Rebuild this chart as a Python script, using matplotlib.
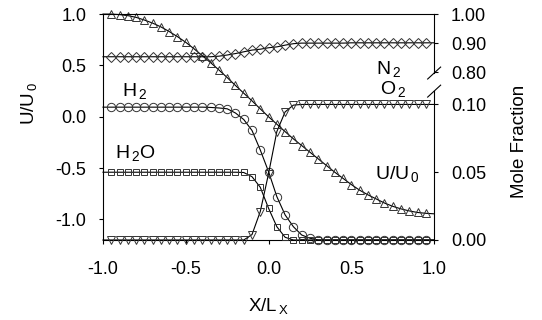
import numpy as np
import matplotlib
matplotlib.use("Agg")
from matplotlib import pyplot as plt

# positions along the channel, X/Lx (line ends at +-1, markers in between)
x_pos = [-1.0, -0.95, -0.9, -0.85, -0.8, -0.75, -0.7, -0.65, -0.6, -0.55,
         -0.5, -0.45, -0.4, -0.35, -0.3, -0.25, -0.2, -0.15, -0.1, -0.05,
         0.0, 0.05, 0.1, 0.15, 0.2, 0.25, 0.3, 0.35, 0.4, 0.45,
         0.5, 0.55, 0.6, 0.65, 0.7, 0.75, 0.8, 0.85, 0.9, 0.95, 1.0]

# velocity U/U0 (left axis)
u_ratio = [1.0, 1.0, 0.995, 0.985, 0.968, 0.942, 0.912, 0.875, 0.83, 0.78,
           0.725, 0.662, 0.595, 0.527, 0.456, 0.382, 0.305, 0.23, 0.155, 0.077,
           0.0, -0.072, -0.145, -0.215, -0.28, -0.345, -0.41, -0.475, -0.54, -0.6,
           -0.66, -0.715, -0.76, -0.8, -0.84, -0.872, -0.897, -0.917, -0.932, -0.94,
           -0.945]

# mole fractions (right axis)
n2 = [0.853, 0.853, 0.853, 0.853, 0.853, 0.853, 0.853, 0.853, 0.853, 0.853,
      0.853, 0.853, 0.853, 0.853, 0.855, 0.859, 0.864, 0.870, 0.876, 0.879,
      0.884, 0.887, 0.893, 0.898, 0.900, 0.900, 0.900, 0.900, 0.900, 0.900,
      0.901, 0.901, 0.901, 0.901, 0.901, 0.901, 0.901, 0.901, 0.901, 0.901,
      0.901]
h2 = [0.098, 0.098, 0.098, 0.098, 0.098, 0.098, 0.098, 0.098, 0.098, 0.098,
      0.098, 0.098, 0.098, 0.0978, 0.0974, 0.0968, 0.0937, 0.0889, 0.0808, 0.0664,
      0.0504, 0.032, 0.0185, 0.0098, 0.0037, 0.0013, 0.0, 0.0, 0.0, 0.0,
      0.0, 0.0, 0.0, 0.0, 0.0, 0.0, 0.0, 0.0, 0.0, 0.0,
      0.0]
h2o = [0.05, 0.05, 0.05, 0.05, 0.05, 0.05, 0.05, 0.05, 0.05, 0.05,
       0.05, 0.05, 0.05, 0.05, 0.05, 0.05, 0.05, 0.0498, 0.0467, 0.0389,
       0.0234, 0.0098, 0.002, 0.0, 0.0, 0.0, 0.0, 0.0, 0.0, 0.0,
       0.0, 0.0, 0.0, 0.0, 0.0, 0.0, 0.0, 0.0, 0.0, 0.0,
       0.0]
o2 = [0.0, 0.0, 0.0, 0.0, 0.0, 0.0, 0.0, 0.0, 0.0, 0.0,
      0.0, 0.0, 0.0, 0.0, 0.0, 0.0, 0.0, 0.0, 0.004, 0.021,
      0.049, 0.080, 0.0945, 0.0995, 0.1, 0.1, 0.1, 0.1, 0.1, 0.1,
      0.1, 0.1, 0.1, 0.1, 0.1, 0.1, 0.1, 0.1, 0.1, 0.1,
      0.1]

x_ticks = [-1.0, -0.5, 0.0, 0.5, 1.0]
x_labels = ["-1.0", "-0.5", "0.0", "0.5", "1.0"]
u_ticks = [-1.0, -0.5, 0.0, 0.5, 1.0]
u_labels = ["-1.0", "-0.5", "0.0", "0.5", "1.0"]
mf_ticks = [0.0, 0.05, 0.10, 0.80, 0.90, 1.00]
mf_labels = ["0.00", "0.05", "0.10", "0.80", "0.90", "1.00"]

# broken mole-fraction axis: 0-0.1 stretched, 0.8-1.0 squeezed on top
mf_knots = [0.0, 0.10, 0.80, 1.00]
axis_knots = [0.0, 0.600, 0.743, 1.0]


def to_axis(v):
    return np.interp(v, mf_knots, axis_knots)


def from_axis(v):
    return np.interp(v, axis_knots, mf_knots)


plt.rcParams["font.family"] = "Liberation Sans"
plt.rcParams["mathtext.fontset"] = "custom"
plt.rcParams["mathtext.rm"] = "Liberation Sans"
plt.rcParams["mathtext.it"] = "Liberation Sans"
plt.rcParams["axes.unicode_minus"] = False

fig = plt.figure(figsize=(5.42, 3.2), dpi=100)
ax = fig.add_axes([0.190, 0.25, 0.611, 0.706])
ax2 = ax.twinx()
ax2.set_yscale("function", functions=(to_axis, from_axis))

marks = range(1, 40)
common = dict(color="black", lw=0.8, mfc="none", mec="#333333", mew=0.7,
              markevery=marks, clip_on=False)

ax.plot(x_pos, u_ratio, marker="^", ms=6, **common)
ax2.plot(x_pos, n2, marker="D", ms=5, **common)
ax2.plot(x_pos, h2, marker="o", ms=6, **common)
ax2.plot(x_pos, h2o, marker="s", ms=5, **common)
ax2.plot(x_pos, o2, marker="v", ms=6, **common)

ax.set_xlim(-1.0, 1.0)
ax.set_ylim(-1.2, 1.0)
ax2.set_ylim(0.0, 1.0)

ax.set_xticks(x_ticks)
ax.set_xticklabels(x_labels)
ax.set_yticks(u_ticks)
ax.set_yticklabels(u_labels)
ax2.set_yticks(mf_ticks)
ax2.set_yticklabels(mf_labels)
ax2.minorticks_off()

ax.tick_params(axis="x", direction="out", length=3, width=0.8, labelsize=13, pad=12)
ax.tick_params(axis="y", direction="out", length=3, width=0.8, labelsize=13, pad=9)
ax2.tick_params(axis="y", direction="out", length=3, width=0.8, labelsize=13, pad=9)

for s in ax2.spines.values():
    s.set_visible(False)
ax.spines["right"].set_visible(False)
for s in ["left", "top", "bottom"]:
    ax.spines[s].set_linewidth(0.8)

# right spine with the break marks
lo, hi = 0.659, 0.739
ax.plot([1, 1], [0, lo], transform=ax.transAxes, color="black", lw=0.8, clip_on=False)
ax.plot([1, 1], [hi, 1], transform=ax.transAxes, color="black", lw=0.8, clip_on=False)
for yb in (lo, hi):
    ax.plot([1 - 0.0196, 1 + 0.0196], [yb - 0.0265, yb + 0.0265],
            transform=ax.transAxes, color="black", lw=0.8, clip_on=False)

ax.set_xlabel(r"X/L$_{\,\mathrm{X}}$", fontsize=13.5)
ax.xaxis.set_label_coords(0.5, -0.25)
ax.set_ylabel(r"U/U$_{\,0}$", fontsize=13.5)
ax.yaxis.set_label_coords(-0.193, 0.606)
ax2.set_ylabel("Mole Fraction", fontsize=13.5)
ax2.yaxis.set_label_coords(1.233, 0.438)

lab = dict(fontsize=14, ha="left", va="baseline")
ax.text(0.65, 0.42, r"N$_{\,2}$", **lab)
ax.text(0.674, 0.225, r"O$_{\,2}$", **lab)
ax.text(-0.887, 0.205, r"H$_{\,2}$", **lab)
ax.text(-0.927, -0.40, r"H$_{\,2}$O", **lab)
ax.text(0.644, -0.61, r"U/U$_{\,0}$", **lab)

fig.savefig("out.png", dpi=100)
